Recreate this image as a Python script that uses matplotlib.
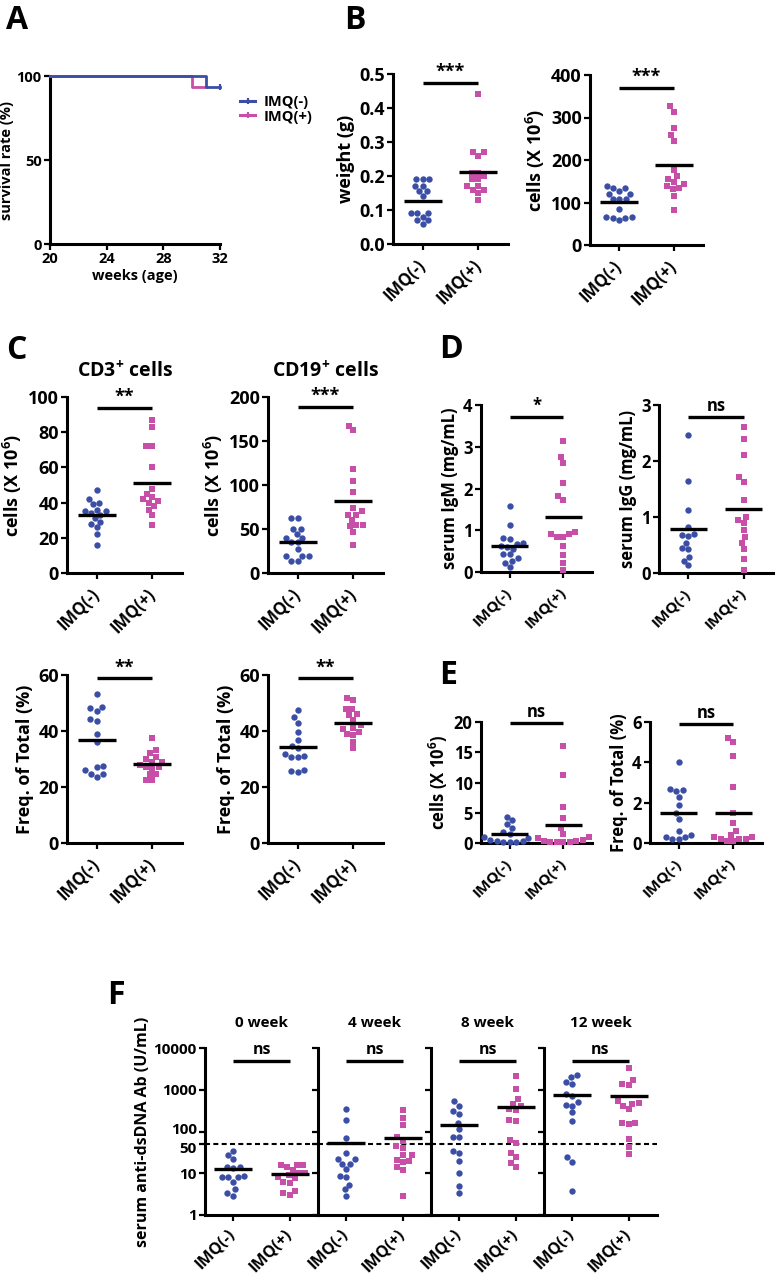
import numpy as np
import matplotlib
matplotlib.use("Agg")
import matplotlib.pyplot as plt
from matplotlib.lines import Line2D
from matplotlib.transforms import ScaledTranslation

W, H = 777, 1285
BLUE = "#3b4ea6"
MAGENTA = "#c84fa8"

plt.rcParams["font.family"] = ["Open Sans", "DejaVu Sans"]
plt.rcParams["font.weight"] = "bold"
plt.rcParams["axes.labelweight"] = "bold"
plt.rcParams["axes.titleweight"] = "bold"
plt.rcParams["mathtext.fontset"] = "custom"
plt.rcParams["mathtext.rm"] = "Open Sans:bold"
plt.rcParams["mathtext.bf"] = "Open Sans:bold"
plt.rcParams["mathtext.it"] = "Open Sans:bold"
plt.rcParams["mathtext.default"] = "rm"

GROUPS = ["IMQ(-)", "IMQ(+)"]

# A: survival
surv_weeks_neg = [20, 31, 31, 32]
surv_rate_neg = [100, 100, 93.3, 93.3]
surv_weeks_pos = [20, 30, 30, 31]
surv_rate_pos = [100, 100, 93.3, 93.3]

# B
weight_neg = [0.19, 0.19, 0.19, 0.17, 0.17, 0.155, 0.155, 0.14, 0.09, 0.09, 0.08, 0.07, 0.07, 0.06, 0.09]
weight_pos = [0.44, 0.27, 0.26, 0.27, 0.21, 0.21, 0.20, 0.19, 0.17, 0.17, 0.16, 0.16, 0.15, 0.13, 0.19]
spleen_neg = [134, 140, 134, 127, 120, 108, 108, 108, 85, 66, 63, 59, 63, 66, 120]
spleen_pos = [326, 314, 275, 259, 245, 177, 162, 156, 148, 144, 140, 135, 131, 116, 83]

# C
cd3_cells_neg = [47, 42, 40, 39, 36, 35, 35, 34, 33, 31, 29, 28, 26, 22, 16]
cd3_cells_pos = [87, 83, 72, 72, 60, 48, 45, 43, 42, 41, 40, 38, 36, 33, 27]
cd19_cells_neg = [62, 62, 50, 50, 44, 40, 40, 35, 35, 27, 19, 19, 14, 14, 19]
cd19_cells_pos = [162, 167, 118, 104, 92, 74, 66, 66, 70, 54, 60, 53, 47, 32, 55]
cd3_freq_neg = [53.1, 48.1, 48.5, 47.3, 44.3, 43.7, 38.9, 36.2, 27.0, 27.5, 26.0, 24.6, 23.7, 24.6]
cd3_freq_pos = [37.4, 33.2, 32.0, 30.8, 29.9, 29.0, 27.0, 26.7, 27.0, 24.6, 24.6, 22.5, 22.5, 29.0, 28.0]
cd19_freq_neg = [47.5, 44.9, 43.0, 39.8, 36.8, 33.8, 31.8, 31.0, 30.8, 30.8, 26.1, 25.5, 25.8, 34.8]
cd19_freq_pos = [51.7, 51.0, 47.7, 47.7, 46.0, 45.7, 44.0, 42.0, 40.6, 41.0, 39.8, 38.6, 38.9, 36.2, 33.8]

# D
igm_neg = [1.57, 1.13, 0.82, 0.80, 0.68, 0.70, 0.62, 0.55, 0.42, 0.42, 0.26, 0.34, 0.22, 0.12, 0.60]
igm_pos = [3.13, 2.76, 2.62, 2.13, 1.81, 1.73, 0.96, 0.90, 0.84, 0.84, 0.90, 0.62, 0.40, 0.22, 0.04]
igg_neg = [2.46, 1.65, 1.13, 0.83, 0.70, 0.66, 0.68, 0.54, 0.43, 0.45, 0.29, 0.22, 0.14]
igg_pos = [2.60, 2.40, 2.10, 1.71, 1.63, 1.30, 0.95, 1.00, 0.89, 0.76, 0.64, 0.54, 0.43, 0.25, 0.05]

# E
e_cells_neg = [4.3, 3.8, 3.2, 2.5, 1.8, 1.5, 1.0, 0.8, 0.5, 0.3, 0.2, 0.2, 0.1, 0.3]
e_cells_pos = [16.1, 11.3, 6.0, 4.2, 2.5, 1.5, 1.0, 0.8, 0.5, 0.3, 0.3, 0.2, 0.2, 0.1, 0.1]
e_freq_neg = [4.0, 2.7, 2.6, 2.65, 2.3, 1.9, 1.5, 1.2, 0.6, 0.4, 0.3, 0.3, 0.2, 0.2]
e_freq_pos = [5.2, 5.0, 4.3, 2.8, 1.5, 1.0, 0.6, 0.4, 0.3, 0.3, 0.2, 0.2, 0.2, 0.1, 0.1]

# F: anti-dsDNA
ds_weeks = ["0 week", "4 week", "8 week", "12 week"]
ds_neg = [
    [35, 27.5, 21.6, 14, 14, 13, 8.3, 8, 6.3, 8, 8.6, 4.1, 2.9, 3.3],
    [344, 184, 69, 31.4, 21.6, 21.6, 16.7, 16.7, 12.5, 8.6, 8, 5.2, 4.1, 2.9],
    [525, 415, 302, 265, 164, 116, 73, 73, 35, 30, 19.7, 10.4, 5, 3.4],
    [2291, 1975, 1390, 1500, 719, 800, 437, 415, 506, 287, 174, 24.2, 19.1, 3.8],
]
ds_pos = [
    [15.8, 15.8, 15.8, 14, 6, 9, 10, 10, 7.6, 6.3, 8, 3.8, 3, 3.3, 12],
    [319, 209, 145, 73, 60, 40, 44, 27.5, 27.5, 20, 19, 21, 14, 12, 2.9],
    [2168, 1038, 595, 415, 331, 343, 463, 190, 174, 54.5, 61, 31.4, 25, 18, 14.5],
    [3311, 1738, 1318, 1380, 479, 415, 343, 463, 525, 158, 153, 158, 65, 43.6, 28.6],
]
ds_sig = ["ns", "ns", "ns", "ns"]
ds_cutoff = 50

fig = plt.figure(figsize=(W / 100, H / 100), dpi=100)


def add_px_axes(left, top, right, bottom):
    return fig.add_axes([left / W, 1 - bottom / H, (right - left) / W, (bottom - top) / H])


def style(ax, fs, lw=2.2):
    for side in ("top", "right"):
        ax.spines[side].set_visible(False)
    for side in ("left", "bottom"):
        ax.spines[side].set_linewidth(lw)
    ax.tick_params(width=1.6, length=4, labelsize=fs, pad=2)


def swarm_x(ax, center, values, diam):
    pts = ax.transData.transform(np.column_stack([np.full(len(values), center), values]))
    cx = pts[0, 0]
    ys = pts[:, 1]
    xs = np.zeros(len(values))
    placed = []
    for i in np.argsort(ys):
        y = ys[i]
        cands = [0.0]
        for px, py in placed:
            dy = abs(py - y)
            if dy < diam:
                dx = np.sqrt(diam ** 2 - dy ** 2)
                cands += [px - dx, px + dx]
        cands.sort(key=lambda c: (abs(c), c))
        for c in cands:
            if all((c - px) ** 2 + (y - py) ** 2 >= diam ** 2 - 1e-6 for px, py in placed):
                xs[i] = c
                placed.append((c, y))
                break
    disp = np.column_stack([cx + xs, ys])
    return ax.transData.inverted().transform(disp)[:, 0]


def groups_xticks(ax, fs):
    ax.set_xticks([1, 2])
    ax.set_xticklabels(GROUPS, rotation=45, ha="right", va="center",
                       rotation_mode="anchor", fontsize=fs, fontweight="bold")
    ax.tick_params(axis="x", pad=9)


def draw_groups(ax, neg, pos, diam=6.5):
    for center, vals, marker, color in ((1, neg, "o", BLUE), (2, pos, "s", MAGENTA)):
        xs = swarm_x(ax, center, vals, diam)
        ax.scatter(xs, vals, s=21, marker=marker, color=color, linewidths=0,
                   zorder=3, clip_on=False)
        m = np.mean(vals)
        ax.plot([center - 0.34, center + 0.34], [m, m], color="black", lw=2.4,
                zorder=4, solid_capstyle="butt")


def sig_bar(ax, y, label, fs):
    ax.plot([1, 2], [y, y], color="black", lw=2.4, clip_on=False,
            solid_capstyle="butt")
    ax.annotate(label, (1.5, y), xytext=(0, 1.5), textcoords="offset points",
                ha="center", va="bottom", fontsize=fs, fontweight="bold",
                annotation_clip=False)


def dot_panel(box, neg, pos, ymax, yticks, ylabel, sig, sig_y, fs, label_fs,
              tick_fmt="{:g}", title=None):
    ax = add_px_axes(*box)
    ax.set_xlim(0.47, 2.53)
    ax.set_ylim(0, ymax)
    style(ax, fs)
    ax.set_yticks(yticks)
    ax.set_yticklabels([tick_fmt.format(t) for t in yticks], fontweight="bold")
    groups_xticks(ax, fs * 0.92)
    draw_groups(ax, neg, pos)
    sig_bar(ax, sig_y, sig, fs)
    ax.set_ylabel(ylabel, fontsize=label_fs, labelpad=3)
    if title:
        left, top, right, bottom = box
        fig.text((left + right) / 2 / W, 1 - 372 / H, title, fontsize=label_fs + 1,
                 fontweight="bold", ha="center", va="center")
    return ax


# ---------- A ----------
axA = add_px_axes(50, 76, 220, 244)
style(axA, 10.5)
axA.set_xlim(20, 32)
axA.set_ylim(0, 100)
axA.set_xticks([20, 24, 28, 32])
axA.set_yticks([0, 50, 100])
for lab in axA.get_xticklabels() + axA.get_yticklabels():
    lab.set_fontweight("bold")
axA.plot(surv_weeks_pos, surv_rate_pos, color=MAGENTA, lw=2.0, clip_on=False, zorder=3)
axA.plot(surv_weeks_neg, surv_rate_neg, color=BLUE, lw=2.0, clip_on=False, zorder=4)
axA.plot(surv_weeks_neg[-1], surv_rate_neg[-1], marker="|", color=BLUE, ms=5, mew=1.6, clip_on=False)
axA.set_ylabel("survival rate (%)", fontsize=10.5, labelpad=2)
axA.set_xlabel("weeks (age)", fontsize=10.5, labelpad=2)
handles = [Line2D([], [], color=BLUE, lw=2.2, marker="|", ms=5, mew=1.6),
           Line2D([], [], color=MAGENTA, lw=2.2, marker="|", ms=5, mew=1.6)]
leg = axA.legend(handles, GROUPS, loc="upper left", bbox_to_anchor=(233 / W, 1 - 88 / H),
                 bbox_transform=fig.transFigure, frameon=False,
                 prop={"size": 10.5, "weight": "bold"},
                 handlelength=1.0, handletextpad=0.6, labelspacing=0.02, borderpad=0)

# ---------- B ----------
dot_panel((393, 74, 508, 244), weight_neg, weight_pos, 0.5, [0, 0.1, 0.2, 0.3, 0.4, 0.5],
          "weight (g)", "***", 0.475, 13, 13, tick_fmt="{:.1f}")
dot_panel((590, 75, 703, 245), spleen_neg, spleen_pos, 400, [0, 100, 200, 300, 400],
          "cells (X 10$^{6}$)", "***", 370, 13, 13)

# ---------- C ----------
dot_panel((67, 397, 182, 573), cd3_cells_neg, cd3_cells_pos, 100, [0, 20, 40, 60, 80, 100],
          "cells (X 10$^{6}$)", "**", 94, 13, 13, title="CD3$^{+}$ cells")
dot_panel((268, 397, 383, 573), cd19_cells_neg, cd19_cells_pos, 200, [0, 50, 100, 150, 200],
          "cells (X 10$^{6}$)", "***", 189, 13, 13, title="CD19$^{+}$ cells")
dot_panel((67, 675, 182, 843), cd3_freq_neg, cd3_freq_pos, 60, [0, 20, 40, 60],
          "Freq. of Total (%)", "**", 58.8, 13, 13)
dot_panel((268, 675, 383, 843), cd19_freq_neg, cd19_freq_pos, 60, [0, 20, 40, 60],
          "Freq. of Total (%)", "**", 58.8, 13, 13)

# ---------- D ----------
dot_panel((481, 405, 592, 572), igm_neg, igm_pos, 4, [0, 1, 2, 3, 4],
          "serum IgM (mg/mL)", "*", 3.71, 12, 12)
dot_panel((659, 405, 773, 573), igg_neg, igg_pos, 3, [0, 1, 2, 3],
          "serum IgG (mg/mL)", "ns", 2.78, 12, 12)

# ---------- E ----------
dot_panel((481, 722, 592, 843), e_cells_neg, e_cells_pos, 20, [0, 5, 10, 15, 20],
          "cells (X 10$^{6}$)", "ns", 19.8, 12, 12)
dot_panel((650, 722, 762, 843), e_freq_neg, e_freq_pos, 6, [0, 2, 4, 6],
          "Freq. of Total (%)", "ns", 5.9, 12, 12)

# ---------- F ----------
f_left, f_right, f_top, f_bottom = 205, 657, 1048, 1215
f_step = (f_right - f_left) / len(ds_weeks)
f_ticks = [1, 10, 50, 100, 1000, 10000]
for k, week in enumerate(ds_weeks):
    ax = add_px_axes(f_left + k * f_step, f_top, f_left + (k + 1) * f_step, f_bottom)
    ax.set_yscale("log")
    ax.set_xlim(0.5, 2.5)
    ax.set_ylim(1, 10000)
    style(ax, 11)
    ax.minorticks_off()
    ax.set_yticks(f_ticks)
    if k == 0:
        ax.set_yticklabels([str(t) for t in f_ticks], fontweight="bold")
        for lab, t in zip(ax.get_yticklabels(), f_ticks):
            if t == 100:
                lab.set_transform(lab.get_transform() + ScaledTranslation(0, 0.03, fig.dpi_scale_trans))
            elif t == 50:
                lab.set_transform(lab.get_transform() + ScaledTranslation(0, -0.03, fig.dpi_scale_trans))
        ax.set_ylabel("serum anti-dsDNA Ab (U/mL)", fontsize=11.5, labelpad=2)
    else:
        ax.set_yticklabels([])
    groups_xticks(ax, 11.5)
    ax.tick_params(axis="x", pad=8)
    ax.axhline(ds_cutoff, color="black", lw=1.5, ls=(0, (2.4, 1.6)), zorder=2)
    draw_groups(ax, ds_neg[k], ds_pos[k])
    sig_bar(ax, 5000, ds_sig[k], 11.5)
    ax.set_title(week, fontsize=11, pad=15)

# panel letters
for letter, x, y in (("A", 6, 4), ("B", 344, 4), ("C", 6, 334), ("D", 439, 333),
                     ("E", 439, 659), ("F", 107, 979)):
    fig.text(x / W, 1 - y / H, letter, fontsize=23, fontweight="bold", ha="left", va="top")

fig.savefig("out.png", dpi=100)
